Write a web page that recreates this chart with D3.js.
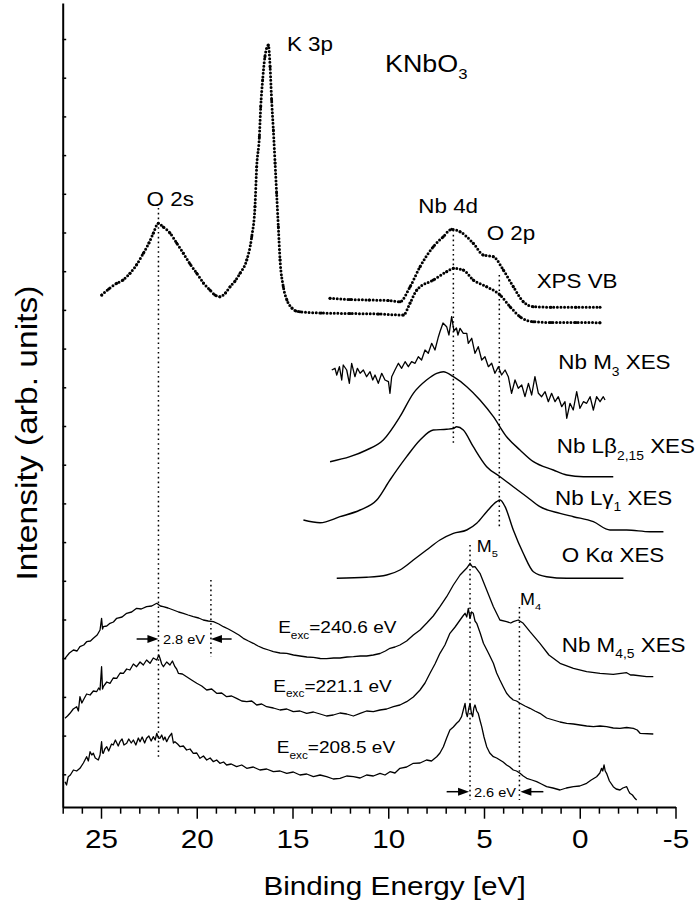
<!DOCTYPE html>
<meta charset="utf-8">
<script src="https://d3js.org/d3.v7.min.js"></script>
<style>
  body { margin: 0; background: #fff; }
  text { font-family: "Liberation Sans", Arial, Helvetica, sans-serif; fill: #000; }
</style>
<svg id="chart" width="695" height="907"></svg>
<script>

// ---- data (binding energy [eV], intensity [arb. units]) ----
var xTicksMajor = [25, 20, 15, 10, 5, 0, -5];
var xTicksMinor = [27, 26, 24, 23, 22, 21, 19, 18, 17, 16, 14, 13, 12, 11, 9, 8, 7, 6, 4, 3, 2, 1, -1, -2, -3, -4];
var yTicks = [38.7, 77.4, 116.1, 154.8, 193.5, 232.2, 270.9, 309.6, 348.3, 387, 425.7, 464.4, 503.1, 541.8, 580.5, 619.2, 657.9, 696.6, 735.3, 774];

// XPS survey: O 2s, K 3p and valence band (lower dotted trace)
var xpsSurvey = [[24.96,518],[24.6,524],[24.18,529.7],[23.85,533],[23.49,539.7],[23.15,548],[22.79,559.7],[22.5,570],[22.27,579.7],[22.01,589.7],[21.75,586],[21.4,580],[21.05,570],[20.7,559.7],[20.35,549],[20.0,539.7],[19.65,530],[19.31,523],[19.05,518],[18.79,516.3],[18.5,520],[18.26,526.3],[18.0,532],[17.74,539.7],[17.39,553],[17.13,576.3],[16.96,606.3],[16.87,646.3],[16.73,676.3],[16.66,706.3],[16.56,733],[16.44,756.3],[16.26,768],[16.17,746.3],[16.09,713],[16.0,683],[15.91,650],[15.83,620],[15.74,586.3],[15.65,553],[15.48,526.3],[15.29,513],[15.03,505],[14.82,502],[14.61,501.3],[13.5,500],[12,499.5],[10.5,499],[9.21,498],[8.86,510],[8.51,523],[7.65,533],[6.95,541.3],[6.6,544.7],[6.08,543],[5.56,533],[4.86,526.3],[4.16,518],[3.64,506.3],[3.12,496.3],[2.43,491.3],[1.5,490.5],[0.2,490.5],[-1.06,490.3]];
// XPS valence band (upper dotted trace)
var xpsVB = [[13.04,514.7],[12,513.5],[11,513],[10,512.5],[9.39,511.3],[8.86,526.3],[8.34,546.3],[7.65,566.3],[7.13,576.3],[6.69,583.7],[6.25,581.3],[5.56,569.7],[5.04,558],[4.51,556.3],[3.99,543],[3.47,526.3],[2.95,511.3],[2.43,506.3],[1.5,505.8],[0.2,505.7],[-1.06,505.7]];

var nbM3 = [[12.95,443],[12.78,444.7],[12.69,438],[12.55,446.3],[12.43,433],[12.35,448],[12.17,443],[12.03,429.7],[11.91,449.7],[11.74,436.3],[11.61,444.7],[11.47,439.7],[11.30,443],[11.13,436.3],[10.95,441.3],[10.81,433],[10.69,438],[10.52,429.7],[10.34,439.7],[10.17,433],[9.99,431.3],[9.91,419.7],[9.82,436.3],[9.65,443],[9.47,449.7],[9.30,444.7],[9.12,451.3],[8.95,446.3],[8.78,451.3],[8.60,449.7],[8.43,456.3],[8.26,453],[8.08,463],[7.91,459.7],[7.73,469.7],[7.56,463],[7.38,476.3],[7.30,481.3],[7.14,490],[6.95,486.3],[6.83,478],[6.69,496.3],[6.57,482],[6.44,485],[6.36,478],[6.25,484.7],[6.08,479.7],[5.90,479.7],[5.82,469.7],[5.64,474.7],[5.47,459.7],[5.30,466.3],[5.12,453],[4.95,456.3],[4.77,446.3],[4.60,449.7],[4.43,439.7],[4.25,446.3],[4.08,438],[3.90,443],[3.73,436.3],[3.56,419.7],[3.38,433],[3.21,424.7],[3.03,428],[2.86,416.3],[2.68,429.7],[2.51,418],[2.34,436.3],[2.16,419.7],[1.99,416.3],[1.81,421.3],[1.64,411.3],[1.47,419.7],[1.29,411.3],[1.12,416.3],[0.94,406.3],[0.77,411.3],[0.68,394.7],[0.51,409.7],[0.34,403],[0.16,421.3],[-0.01,404.7],[-0.19,411.3],[-0.36,409.7],[-0.54,416.3],[-0.71,403],[-0.88,416.3],[-1.06,411.3],[-1.23,416.3],[-1.32,413]];

var nbLbeta = [[13.04,351.3],[12.0,356.3],[11.13,363],[10.26,373],[9.39,396.3],[8.69,419.7],[8.0,433],[7.47,439.7],[7.12,441.3],[6.6,436.3],[5.9,426.3],[5.21,413],[4.51,396.3],[3.82,376.3],[3.12,363],[2.42,351.3],[1.38,343],[0.68,338],[-0.19,336.3],[-1.75,336.3]];

var nbLgamma = [[14.43,293],[13.56,290.3],[12.52,296.3],[11.47,303],[10.6,313],[9.91,333],[9.04,356.3],[8.34,373],[7.65,383],[6.95,383.7],[6.6,384.5],[6.43,386.3],[6.08,383],[5.56,366.3],[4.86,346.3],[4.16,336.3],[3.47,326.3],[2.77,316.3],[2.08,306.3],[1.03,299.7],[0.33,296.3],[-0.71,291.3],[-1.58,283],[-2.45,283],[-3.67,281.3],[-4.37,281.3]];

var oKalpha = [[12.69,234.7],[11.13,235.7],[10.08,238],[9.39,243],[8.69,253],[8.0,263],[7.3,273],[6.6,279.7],[5.9,283],[5.38,289.7],[4.86,301.3],[4.34,311.3],[4.16,313],[3.9,306.3],[3.47,283],[2.95,259.7],[2.42,241.3],[1.73,236.3],[0.68,234.7],[-2.28,234.7]];

// Nb M4,5 XES at three excitation energies
var nbM45_2406 = [[26.88,154.7],[26.65,160],[26.44,163],[26.25,162],[26.10,166.3],[25.9,168],[25.75,171.3],[25.55,172],[25.40,174.7],[25.2,178],[25.05,183],[24.97,194.7],[24.92,184],[24.88,186.3],[24.7,187],[24.53,189.7],[24.35,191],[24.18,194.7],[23.9,196],[23.66,199.7],[23.4,201],[23.14,204.7],[22.9,204],[22.62,206.3],[22.35,207],[22.09,209.7],[21.9,207],[21.75,206.3],[21.5,205],[21.22,203],[20.95,201],[20.70,199.7],[20.45,198],[20.18,196.3],[19.9,195],[19.66,193],[19.4,192],[19.13,191.3],[18.85,189],[18.61,186.3],[18.35,184],[18.09,181.3],[17.8,178],[17.57,174.7],[17.3,172],[17.05,169.7],[16.8,167],[16.52,164.7],[16.25,163],[16.0,161.3],[15.65,160],[15.30,159.7],[14.95,158],[14.61,157],[14.25,156],[13.91,155.7],[13.55,154.5],[13.22,154.3],[12.85,155],[12.52,155],[12.15,156],[11.82,156.3],[11.45,157],[11.13,157],[10.78,158],[10.43,159.5],[10.15,162],[9.91,164.7],[9.65,166],[9.39,168],[9.04,172],[8.69,178],[8.34,183],[8.0,189.7],[7.65,197],[7.30,206.3],[6.95,216.3],[6.60,228],[6.25,238],[5.91,244.7],[5.73,249.7],[5.6,246],[5.47,246.3],[5.21,239.7],[4.86,223],[4.51,206.3],[4.17,193],[3.82,191.3],[3.6,190],[3.47,191.3],[3.21,193],[2.95,189.7],[2.60,181.3],[2.08,169.7],[1.61,158],[1.03,149.7],[0.33,144.7],[-0.36,141.3],[-1.06,139.7],[-1.75,138.7],[-2.45,140.3],[-2.65,138],[-2.80,138],[-3.49,136.3],[-3.84,136.3]];

var nbM45_2211 = [[26.88,94.7],[26.75,97],[26.62,99.7],[26.45,104],[26.27,106.3],[26.18,102],[26.10,116.3],[26.00,110],[25.92,113],[25.75,119],[25.57,118],[25.40,122],[25.23,121.3],[25.12,125],[25.05,123],[24.97,146.3],[24.92,124],[24.88,126.3],[24.70,131],[24.53,129.7],[24.36,135],[24.18,134.7],[24.00,140],[23.83,139.7],[23.66,144],[23.49,143],[23.31,149],[23.14,146.3],[22.96,151],[22.79,148],[22.62,153],[22.44,149.7],[22.27,155],[22.09,153],[21.98,158],[21.92,154.7],[21.83,149],[21.74,146.3],[21.57,151],[21.40,148],[21.27,152],[21.14,146.3],[21.05,144],[20.96,139.7],[20.75,139],[20.53,136.3],[20.27,133],[20.00,129.7],[19.74,127],[19.48,123],[19.22,124],[18.96,119.7],[18.70,120],[18.44,116.3],[18.18,117],[17.92,114.7],[17.65,112],[17.39,111.3],[17.13,112],[16.87,108],[16.61,109],[16.35,106.3],[16.00,105],[15.65,103],[15.30,104],[14.96,101.3],[14.61,102],[14.26,99.7],[13.91,101],[13.56,99],[13.22,97],[12.87,98],[12.52,100],[12.17,99],[11.82,97],[11.47,99.7],[11.13,102],[10.78,101.3],[10.43,103],[10.08,104],[9.73,106.3],[9.39,108],[9.04,111.3],[8.69,116],[8.34,123],[8.08,130],[7.82,139.7],[7.56,149],[7.30,159.7],[7.04,168],[6.78,179.7],[6.51,186],[6.25,193],[6.10,197],[5.99,199.7],[5.90,196],[5.82,204.7],[5.73,194.7],[5.65,201],[5.56,199.7],[5.47,192],[5.38,189.7],[5.20,180],[5.03,169.7],[4.77,160],[4.51,149.7],[4.34,140],[4.17,133],[3.99,126],[3.82,119.7],[3.65,116],[3.47,113],[3.30,112],[3.12,109.7],[2.86,107],[2.60,104.7],[2.34,102],[2.08,99.7],[1.73,95],[1.38,93],[1.03,91],[0.68,89.7],[0.33,89],[-0.01,88],[-0.36,87],[-0.71,86.3],[-1.06,87],[-1.40,86.3],[-1.75,85],[-2.10,84.7],[-2.45,85.5],[-2.80,84.7],[-3.00,83],[-3.15,79.7],[-3.84,79]];

var nbM45_2085 = [[26.88,31.3],[26.80,28],[26.71,36.3],[26.60,38],[26.44,43],[26.27,42],[26.10,44.7],[25.92,50],[25.75,56.3],[25.66,52],[25.57,61.3],[25.48,58],[25.40,59.7],[25.30,55],[25.14,53],[25.05,58],[24.97,71.3],[24.92,60],[24.88,59.7],[24.80,64],[24.70,66.3],[24.60,62],[24.45,69],[24.36,68],[24.25,73],[24.10,67],[24.01,71.3],[23.90,74],[23.80,68],[23.66,69.7],[23.55,74],[23.42,70],[23.31,73],[23.18,68],[23.05,75],[22.96,71.3],[22.85,76],[22.72,70],[22.62,74.7],[22.50,77],[22.38,72],[22.27,76.3],[22.17,73],[22.09,79.7],[22.00,75],[21.92,74.7],[21.83,78],[21.74,73],[21.66,76],[21.57,71.3],[21.45,76],[21.31,79.7],[21.22,70],[21.14,71.3],[21.00,69],[20.87,66.3],[20.70,67],[20.53,63],[20.35,64],[20.18,59.7],[20.00,60],[19.83,54.7],[19.65,57],[19.48,53],[19.30,55],[19.13,51.3],[18.96,53],[18.79,49.7],[18.60,51],[18.44,48],[18.20,49],[17.92,46.3],[17.65,48],[17.39,44.7],[17.05,46],[16.70,43],[16.35,44],[16.00,41.3],[15.65,42],[15.30,39.7],[14.96,41],[14.61,38],[14.26,39],[13.91,36.3],[13.56,38],[13.22,36.3],[12.87,34],[12.52,34.7],[12.17,37],[11.82,36.3],[11.47,35],[11.13,38],[10.78,37],[10.43,39.7],[10.17,38],[9.91,41.3],[9.65,40],[9.39,44.7],[9.04,46],[8.69,49.7],[8.34,50],[8.00,53],[7.74,52],[7.47,56.3],[7.30,60],[7.12,66.3],[6.95,75],[6.78,83],[6.60,86],[6.43,89.7],[6.30,92],[6.17,96.3],[6.08,103],[5.99,109.7],[5.93,100],[5.87,96.3],[5.80,104],[5.73,109.7],[5.66,100],[5.59,96.3],[5.53,105],[5.47,108],[5.38,102],[5.30,99.7],[5.20,92],[5.12,86.3],[5.00,76],[4.86,66.3],[4.70,60],[4.51,56.3],[4.34,55],[4.17,53],[4.00,51],[3.82,48],[3.65,46],[3.47,43],[3.30,42],[3.12,39.7],[2.95,37],[2.77,34.7],[2.50,33],[2.25,31.3],[2.00,29],[1.73,26.3],[1.40,25],[1.03,23],[0.70,25],[0.33,26.3],[0.00,27],[-0.36,29.7],[-0.60,33],[-0.88,36.3],[-1.05,40],[-1.14,44.7],[-1.20,42],[-1.27,48],[-1.33,42],[-1.40,39.7],[-1.55,32],[-1.75,26.3],[-1.90,24],[-2.10,23],[-2.25,25],[-2.45,26.3],[-2.55,22],[-2.62,19.7],[-2.75,18],[-2.88,14.7],[-2.97,13]];

// vertical dotted guide lines: [energy, top, bottom]
var guideLines = [[22.0,605,56],[19.26,233,156],[6.6,583,368],[4.2,538,286],[5.73,268,13],[3.15,206,13]];
// distance arrows: [from, tip, level]
var gapArrows = [[23.14,22.0,174],[18.18,19.26,174],[6.95,5.78,21.3],[1.90,3.10,21.3]];

// ---- scales ----
var svg = d3.select("#chart");
var x = d3.scaleLinear().domain([27, -5]).range([62.7, 675.5]);
var y = d3.scaleLinear().domain([6, 810]).range([807, 3]);
var stretch = " scale(1.12,1)";

// ---- axes ----
var xMinor = svg.append("g")
  .attr("transform", "translate(0," + y(6) + ")")
  .call(d3.axisBottom(x).tickValues(xTicksMinor).tickSize(6.7).tickSizeOuter(0).tickFormat(""));
xMinor.select(".domain").remove();

var xMajor = svg.append("g")
  .attr("transform", "translate(0," + y(6) + ")")
  .call(d3.axisBottom(x).tickValues(xTicksMajor).tickSize(11.7).tickSizeOuter(0).tickPadding(10.5).tickFormat(d3.format("d")));
xMajor.select(".domain").attr("stroke-width", 2);
xMajor.selectAll("text")
  .attr("font-size", 26.5)
  .attr("font-family", "Liberation Sans, Arial, sans-serif")
  .attr("transform", "scale(1.12,1)")
  .text(function(d) { return d < 0 ? "-" + (-d) : d; });

var yAxis = svg.append("g")
  .attr("transform", "translate(" + x(27) + ",0)")
  .call(d3.axisRight(y).tickValues(yTicks).tickSize(3.5).tickSizeOuter(0).tickFormat(""));
yAxis.select(".domain").attr("stroke-width", 2);

svg.selectAll(".tick line").attr("stroke-width", 1.5);

// axis titles
svg.append("text")
  .attr("transform", "translate(394.5,895)" + stretch)
  .attr("text-anchor", "middle")
  .attr("font-size", 26.5)
  .text("Binding Energy [eV]");

svg.append("text")
  .attr("transform", "translate(37,433) rotate(-90)" + stretch)
  .attr("text-anchor", "middle")
  .attr("font-size", 30)
  .text("Intensity (arb. units)");

// ---- guide lines ----
svg.selectAll(".guide")
  .data(guideLines)
  .enter().append("line")
    .attr("class", "guide")
    .attr("x1", function(d) { return x(d[0]); })
    .attr("x2", function(d) { return x(d[0]); })
    .attr("y1", function(d) { return y(d[1]); })
    .attr("y2", function(d) { return y(d[2]); })
    .attr("stroke", "black")
    .attr("stroke-width", 1.5)
    .attr("stroke-dasharray", "1.6,3.2");

// ---- spectra ----
var line = d3.line()
  .x(function(d) { return x(d[0]); })
  .y(function(d) { return y(d[1]); });
var smooth = d3.line()
  .curve(d3.curveMonotoneX)
  .x(function(d) { return x(d[0]); })
  .y(function(d) { return y(d[1]); });

// XPS traces drawn as dots
[xpsSurvey, xpsVB].forEach(function(s) {
  svg.append("path")
    .datum(s)
    .attr("fill", "none")
    .attr("stroke", "black")
    .attr("stroke-width", 3)
    .attr("stroke-linecap", "round")
    .attr("stroke-dasharray", "0,3.6")
    .attr("d", smooth);
  svg.append("g").selectAll("circle")
    .data(s)
    .enter().append("circle")
      .attr("cx", function(d) { return x(d[0]); })
      .attr("cy", function(d) { return y(d[1]); })
      .attr("r", 1.5);
});

[nbLbeta, nbLgamma, oKalpha].forEach(function(s) {
  svg.append("path")
    .datum(s)
    .attr("fill", "none")
    .attr("stroke", "black")
    .attr("stroke-width", 1.4)
    .attr("d", smooth);
});

[nbM3, nbM45_2406, nbM45_2211, nbM45_2085].forEach(function(s) {
  svg.append("path")
    .datum(s)
    .attr("fill", "none")
    .attr("stroke", "black")
    .attr("stroke-width", 1.3)
    .attr("stroke-linejoin", "round")
    .attr("d", line);
});

// ---- arrows ----
gapArrows.forEach(function(a) {
  var x0 = x(a[0]), x1 = x(a[1]), yy = y(a[2]);
  var dir = x1 > x0 ? 1 : -1;
  svg.append("line")
    .attr("x1", x0).attr("x2", x1 - dir * 8).attr("y1", yy).attr("y2", yy)
    .attr("stroke", "black").attr("stroke-width", 1.5);
  svg.append("path")
    .attr("d", "M" + x1 + "," + yy + "L" + (x1 - dir * 11) + "," + (yy - 4) + "L" + (x1 - dir * 11) + "," + (yy + 4) + "Z")
    .attr("fill", "black");
});

// ---- labels ----
function label(e, v, parts, size, anchor) {
  var t = svg.append("text")
    .attr("transform", "translate(" + x(e) + "," + y(v) + ")" + stretch)
    .attr("font-size", size)
    .attr("text-anchor", anchor || "start");
  var shift = 0;
  parts.forEach(function(p) {
    var sub = typeof p === "object";
    var target = sub ? size * 0.32 : 0;
    t.append("tspan")
      .attr("dy", target - shift)
      .attr("font-size", sub ? size * 0.62 : size)
      .text(sub ? p.s : p);
    shift = target;
  });
}

label(22.62, 607, ["O 2s"], 20);
label(15.29, 762, ["K 3p"], 20);
label(10.17, 741.3, ["KNbO", {s: "3"}], 24);
label(8.43, 600, ["Nb 4d"], 20);
label(4.86, 573, ["O 2p"], 20);
label(2.25, 524.7, ["XPS VB"], 20);
label(1.12, 443.7, ["Nb M", {s: "3"}, " XES"], 20);
label(1.20, 359.7, ["Nb L\u03b2", {s: "2,15"}, " XES"], 20);
label(1.29, 308, ["Nb L\u03b3", {s: "1"}, " XES"], 20);
label(0.94, 251.3, ["O K\u03b1 XES"], 20);
label(5.38, 261.3, ["M", {s: "5"}], 16);
label(3.12, 208, ["M", {s: "4"}], 16);
label(0.94, 161.3, ["Nb M", {s: "4,5"}, " XES"], 20);
label(15.75, 179.7, ["E", {s: "exc"}, "=240.6 eV"], 17);
label(16.0, 121.3, ["E", {s: "exc"}, "=221.1 eV"], 17);
label(15.82, 59.7, ["E", {s: "exc"}, "=208.5 eV"], 17);
label(20.67, 169, ["2.8 eV"], 13, "middle");
label(4.43, 16, ["2.6 eV"], 13, "middle");

</script>
